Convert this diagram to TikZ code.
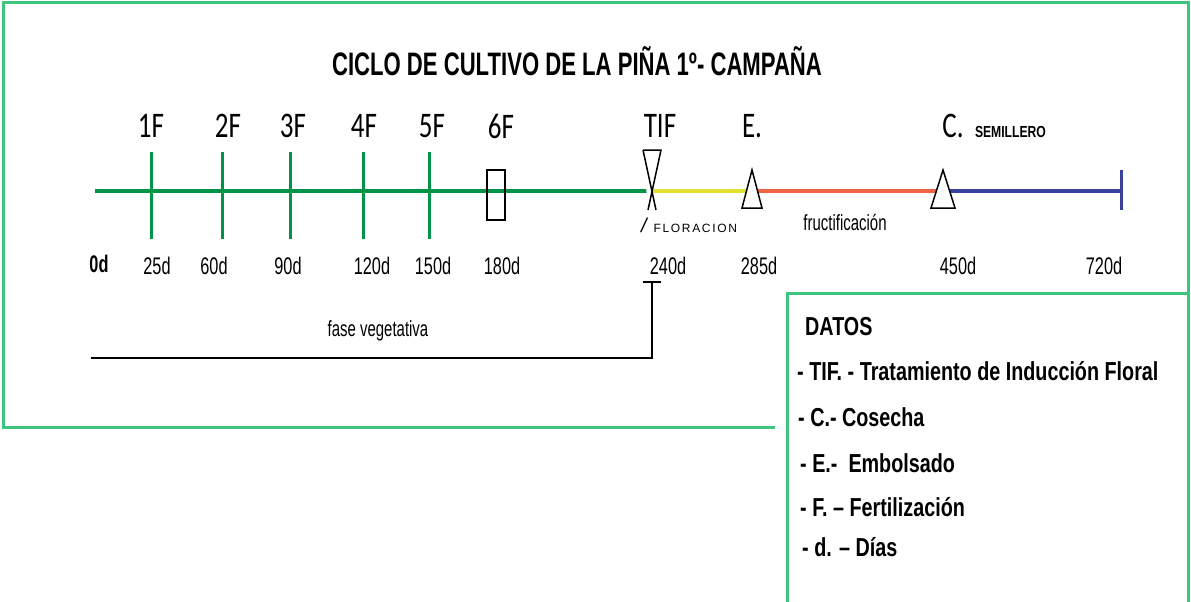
\documentclass[tikz,border=0pt]{standalone}
\usepackage{fontspec}
\newfontfamily\narrowfont[FakeStretch=0.68]{Liberation Sans}
\newfontfamily\datosfont[FakeStretch=0.76]{Liberation Sans}
\newfontfamily\calfont[FakeStretch=0.75]{Carlito}
\newfontfamily\spacedfont[LetterSpace=14]{Liberation Sans}
\usetikzlibrary{positioning}
\definecolor{marco}{RGB}{62,196,124}
\definecolor{vegetativo}{RGB}{0,148,72}
\definecolor{floracion}{RGB}{226,226,46}
\definecolor{fructi}{RGB}{240,98,66}
\definecolor{semilla}{RGB}{56,66,156}
\tikzset{
  frame/.style={draw=marco, line width=3pt},
  phase line/.style={line width=4pt},
  fert tick/.style={draw=vegetativo, line width=3pt},
  marker/.style={draw=black, fill=white, line width=1.5pt, line join=miter},
  event label/.style={font=\calfont\fontsize{36}{36}\selectfont, inner sep=0pt},
  day label/.style={font=\narrowfont\fontsize{24}{24}\selectfont, inner sep=0pt},
  phase label/.style={font=\narrowfont\fontsize{22}{22}\selectfont, inner sep=0pt},
  datos item/.style={font=\datosfont\bfseries\fontsize{26}{26}\selectfont, inner sep=0pt, anchor=base west},
}

\begin{document}
\begin{tikzpicture}[x=1pt,y=-1pt]
\useasboundingbox (0,0) rectangle (1191,602);
% the frames
\draw[frame] (775,427) -- (3,427) -- (3,3) -- (1188,3) -- (1188,293);
\draw[frame, fill=white] (787,293) rectangle (1188,610);
\node [font=\narrowfont\bfseries\fontsize{32.5}{32.5}\selectfont, inner sep=0pt] (title) at (577,61) {CICLO DE CULTIVO DE LA PIÑA 1º- CAMPAÑA};

% the timeline points
\coordinate (t0) at (95,191);
\coordinate (tif) at (652,191);
\coordinate (emb) at (752,191);
\coordinate (cos) at (943,191);
\coordinate (fin) at (1121,191);

%drawings of phases
\draw[phase line, vegetativo] (t0) -- (tif);
\draw[phase line, floracion] (tif) -- (emb);
\draw[phase line, fructi] (emb) -- (cos);
\draw[phase line, semilla] (cos) -- (fin);
\draw[line width=3pt, semilla] ([yshift=-19pt]fin) -- ([yshift=21pt]fin);

% fertilizations
\foreach \x/\n in {151/1,222/2,290/3,363/4,429/5} {
  \draw[fert tick] (\x,152) -- (\x,239);
}
\node [draw, line width=1.2pt, minimum width=18pt, minimum height=50pt, inner sep=0pt] (f6) at (496,195) {};
\foreach \x/\n in {151/1,228/2,293/3,364/4,432/5,501/6} {
  \node [event label] (lf\n) at (\x,126) {\n F};
}

% markers
\draw[marker] ([shift={(-9,-41)}]tif) -- ([shift={(9,-41)}]tif) -- ([shift={(-4,19)}]tif);
\draw[marker, fill=none] ([shift={(-9,-41)}]tif) -- ([shift={(4,19)}]tif);
\draw[marker] ([shift={(-10,17)}]emb) -- ([shift={(0,-21)}]emb) -- ([shift={(10,17)}]emb) -- cycle;
\draw[marker] ([shift={(-12,17)}]cos) -- ([shift={(0,-21)}]cos) -- ([shift={(12,17)}]cos) -- cycle;

\node [event label] (ltif) at (660,126) {TIF};
\node [event label] (lemb) at (752,126) {E.};
\node [event label] (lcos) at (953,126) {C.};
\node [font=\datosfont\bfseries\fontsize{16}{16}\selectfont, inner sep=0pt, right=11pt of lcos, yshift=-6pt] (semi) {SEMILLERO};
\node [font=\spacedfont\fontsize{12}{12}\selectfont, inner sep=0pt] (flor) at (689,225) {{\fontsize{20}{20}\selectfont\itshape /}\hspace{7pt}FLORACION};
\node [phase label] (fruc) at (845,223) {fructificación};

% days
\node [day label, font=\narrowfont\bfseries\fontsize{24}{24}\selectfont] (d0) at (99,264) {0d};
\foreach \x/\t in {157/25,214/60,288/90,372/120,433/150,502/180,668/240,759/285,958/450,1104/720} {
  \node [day label] (d\t) at (\x,266) {\t d};
}

% vegetative phase
\coordinate (vtop) at (652,282);
\coordinate (vend) at (91,358);
\draw[line width=2pt] ([xshift=-9pt]vtop) -- ([xshift=9pt]vtop);
\draw[line width=2pt] (vtop) |- (vend);
\node [phase label] (fase) at (378,331) {fase vegetativa};

% data box
\node [datos item] (datos) at (805,335) {DATOS};
\node [datos item] (itif) at (797,380) {- TIF. - Tratamiento de Inducción Floral};
\node [datos item] (icos) at (798,426) {- C.- Cosecha};
\node [datos item] (iemb) at (800,472) {- E.-\ \ Embolsado};
\node [datos item] (ifer) at (800,516) {- F. – Fertilización};
\node [datos item] (idia) at (802,556) {- d. – Días};
\end{tikzpicture}
\end{document}
